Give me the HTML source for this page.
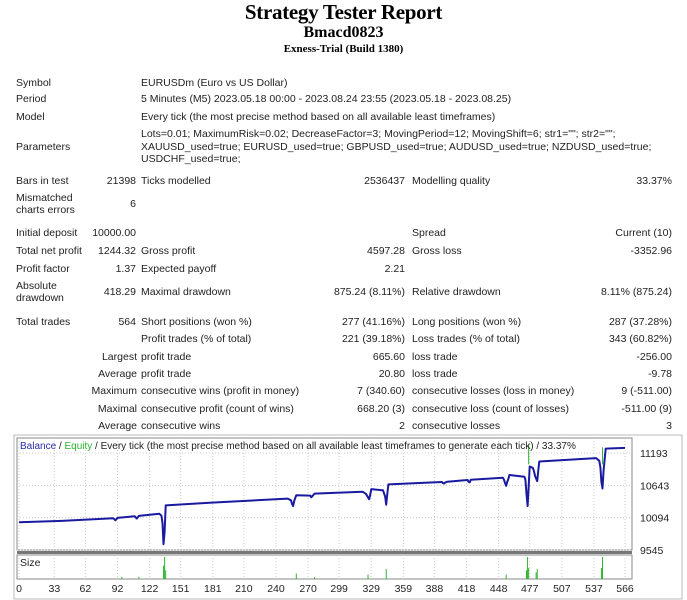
<!DOCTYPE html>
<html><head><meta charset="utf-8">
<style>
body{margin:0;width:687px;height:600px;background:#fff;position:relative;overflow:hidden;font-family:"Liberation Sans",sans-serif;font-size:10.5px;color:#222}
.t{position:absolute;white-space:nowrap;line-height:13px}
.h{position:absolute;left:0;width:687px;text-align:center;font-family:"Liberation Serif",serif;font-weight:bold;color:#000}
</style></head><body>
<div class="h" style="top:0px;font-size:21px;letter-spacing:-0.3px">Strategy Tester Report</div>
<div class="h" style="top:24px;font-size:16px">Bmacd0823</div>
<div class="h" style="top:43px;font-size:11px">Exness-Trial (Build 1380)</div>

<div class="t" style="left:16px;top:77px">Symbol</div>
<div class="t" style="left:141px;top:77px">EURUSDm (Euro vs US Dollar)</div>
<div class="t" style="left:16px;top:93px">Period</div>
<div class="t" style="left:141px;top:93px">5 Minutes (M5) 2023.05.18 00:00 - 2023.08.24 23:55 (2023.05.18 - 2023.08.25)</div>
<div class="t" style="left:16px;top:111px">Model</div>
<div class="t" style="left:141px;top:111px">Every tick (the most precise method based on all available least timeframes)</div>
<div class="t" style="left:16px;top:141px">Parameters</div>
<div class="t" style="left:141px;top:128px;line-height:12.5px">Lots=0.01; MaximumRisk=0.02; DecreaseFactor=3; MovingPeriod=12; MovingShift=6; str1=""; str2="";<br>XAUUSD_used=true; EURUSD_used=true; GBPUSD_used=true; AUDUSD_used=true; NZDUSD_used=true;<br>USDCHF_used=true;</div>

<div class="t" style="left:16px;top:175px">Bars in test</div>
<div class="t" style="right:551px;top:175px">21398</div>
<div class="t" style="left:141px;top:175px">Ticks modelled</div>
<div class="t" style="right:282px;top:175px">2536437</div>
<div class="t" style="left:412px;top:175px">Modelling quality</div>
<div class="t" style="right:15px;top:175px">33.37%</div>

<div class="t" style="left:16px;top:192px;line-height:12px">Mismatched<br>charts errors</div>
<div class="t" style="right:551px;top:198px">6</div>

<div class="t" style="left:16px;top:227px">Initial deposit</div>
<div class="t" style="right:551px;top:227px">10000.00</div>
<div class="t" style="left:412px;top:227px">Spread</div>
<div class="t" style="right:15px;top:227px">Current (10)</div>

<div class="t" style="left:16px;top:245px">Total net profit</div>
<div class="t" style="right:551px;top:245px">1244.32</div>
<div class="t" style="left:141px;top:245px">Gross profit</div>
<div class="t" style="right:282px;top:245px">4597.28</div>
<div class="t" style="left:412px;top:245px">Gross loss</div>
<div class="t" style="right:15px;top:245px">-3352.96</div>

<div class="t" style="left:16px;top:263px">Profit factor</div>
<div class="t" style="right:551px;top:263px">1.37</div>
<div class="t" style="left:141px;top:263px">Expected payoff</div>
<div class="t" style="right:282px;top:263px">2.21</div>

<div class="t" style="left:16px;top:280px;line-height:12px">Absolute<br>drawdown</div>
<div class="t" style="right:551px;top:286px">418.29</div>
<div class="t" style="left:141px;top:286px">Maximal drawdown</div>
<div class="t" style="right:282px;top:286px">875.24 (8.11%)</div>
<div class="t" style="left:412px;top:286px">Relative drawdown</div>
<div class="t" style="right:15px;top:286px">8.11% (875.24)</div>

<div class="t" style="left:16px;top:316px">Total trades</div>
<div class="t" style="right:551px;top:316px">564</div>
<div class="t" style="left:141px;top:316px">Short positions (won %)</div>
<div class="t" style="right:282px;top:316px">277 (41.16%)</div>
<div class="t" style="left:412px;top:316px">Long positions (won %)</div>
<div class="t" style="right:15px;top:316px">287 (37.28%)</div>

<div class="t" style="left:141px;top:333px">Profit trades (% of total)</div>
<div class="t" style="right:282px;top:333px">221 (39.18%)</div>
<div class="t" style="left:412px;top:333px">Loss trades (% of total)</div>
<div class="t" style="right:15px;top:333px">343 (60.82%)</div>

<div class="t" style="right:550px;top:351px">Largest</div>
<div class="t" style="left:141px;top:351px">profit trade</div>
<div class="t" style="right:282px;top:351px">665.60</div>
<div class="t" style="left:412px;top:351px">loss trade</div>
<div class="t" style="right:15px;top:351px">-256.00</div>

<div class="t" style="right:550px;top:368px">Average</div>
<div class="t" style="left:141px;top:368px">profit trade</div>
<div class="t" style="right:282px;top:368px">20.80</div>
<div class="t" style="left:412px;top:368px">loss trade</div>
<div class="t" style="right:15px;top:368px">-9.78</div>

<div class="t" style="right:550px;top:385px">Maximum</div>
<div class="t" style="left:141px;top:385px">consecutive wins (profit in money)</div>
<div class="t" style="right:282px;top:385px">7 (340.60)</div>
<div class="t" style="left:412px;top:385px">consecutive losses (loss in money)</div>
<div class="t" style="right:15px;top:385px">9 (-511.00)</div>

<div class="t" style="right:550px;top:403px">Maximal</div>
<div class="t" style="left:141px;top:403px">consecutive profit (count of wins)</div>
<div class="t" style="right:282px;top:403px">668.20 (3)</div>
<div class="t" style="left:412px;top:403px">consecutive loss (count of losses)</div>
<div class="t" style="right:15px;top:403px">-511.00 (9)</div>

<div class="t" style="right:550px;top:420px">Average</div>
<div class="t" style="left:141px;top:420px">consecutive wins</div>
<div class="t" style="right:282px;top:420px">2</div>
<div class="t" style="left:412px;top:420px">consecutive losses</div>
<div class="t" style="right:15px;top:420px">3</div>

<svg id="chart" style="position:absolute;left:0;top:0" width="687" height="600" font-family="Liberation Sans, sans-serif" font-size="10.5">
</svg>
<script>
var tradeIdx = [0,40,88,90,92,108,110,112,131,133,134,135,136,137,178,251,254,255,256,257,259,272,273,274,276,321,324,326,327,328,329,340,342,343,344,345,395,396,397,398,400,419,420,421,422,452,453,454,455,456,457,458,472,473,474,475,476,477,480,481,482,484,485,486,539,542,543,544,545,546,548,566];
var balance  = [10016,10040,10085,10050,10090,10119,10080,10125,10160,10130,10000,9643,9850,10303,10349,10418,10390,10330,10291,10380,10476,10470,10440,10460,10504,10533,10500,10440,10406,10480,10579,10560,10450,10315,10500,10659,10700,10680,10675,10690,10705,10734,10700,10695,10740,10774,10740,10680,10636,10700,10750,10820,10791,10740,10500,10291,10600,10963,10940,10880,10800,10716,10900,11049,11107,11060,10950,10700,10590,10900,11268,11279];
var sizeIdx  = [96,112,135,136,137,259,276,326,343,455,474,475,476,483,484,544,545];
var sizeVal  = [0.1,0.1,0.6,1.0,0.4,0.25,0.08,0.2,0.45,0.2,0.4,1.0,0.5,0.3,0.45,0.5,1.0];
var equitySpikeIdx = [476,545];
var equitySpikeVal = [11330,11290];
var xTicks = [0,33,62,92,122,151,181,210,240,270,299,329,359,388,418,448,477,507,537,566];
var yTicks = [9545,10094,10643,11193];

var NS="http://www.w3.org/2000/svg", svg=document.getElementById('chart');
var PL=17,PR=632,PT=438,PB=550,ST=555,SB=579;
function X(i){return PL+2+(i/566)*(625-19);}
function Y(v){return 550-(v-9545)/(11193-9545)*(550-453);}
function SY(v){return SB-v*(SB-ST-2);}
function mk(tag,attrs,name){var e=document.createElementNS(NS,tag);for(var k in attrs)e.setAttribute(k,attrs[k]);


svg.appendChild(e);return e;}
mk('rect',{x:14,y:435,width:668,height:164,fill:'#fff',stroke:'#bbb'},'chart-frame');
mk('rect',{x:PL,y:PT,width:PR-PL,height:PB-PT,fill:'#fff',stroke:'#888'},'plot-area');
mk('rect',{x:PL,y:551,width:PR-PL,height:3,fill:'#777'},'panel-separator');
mk('rect',{x:PL,y:ST,width:PR-PL,height:SB-ST,fill:'#fff',stroke:'#888'},'size-panel');
xTicks.forEach(function(t){
  mk('line',{x1:X(t),x2:X(t),y1:PT,y2:PB,stroke:'#ccc','stroke-dasharray':'1,2'},'x-grid-line');
  mk('line',{x1:X(t),x2:X(t),y1:ST,y2:SB,stroke:'#ccc','stroke-dasharray':'1,2'},'size-grid-line');
  var tx=mk('text',{x:X(t),y:592,'text-anchor':'middle',fill:'#222'},'x-tick-label');tx.textContent=t;
});
yTicks.forEach(function(v){
  mk('line',{x1:PL,x2:PR,y1:Y(v),y2:Y(v),stroke:'#ccc','stroke-dasharray':'1,2'},'y-grid-line');
  var tx=mk('text',{x:640,y:Y(v)+4,fill:'#222'},'y-tick-label');tx.textContent=v;
});
sizeIdx.forEach(function(i,k){
  mk('line',{x1:X(i),x2:X(i),y1:SB,y2:SY(sizeVal[k]),stroke:'#2db52d','stroke-width':1},'size-bar');
});
equitySpikeIdx.forEach(function(i,k){
  mk('line',{x1:X(i),x2:X(i),y1:Y(11000),y2:Y(equitySpikeVal[k]),stroke:'#2db52d','stroke-width':1},'equity-spike');
});
var d=tradeIdx.map(function(i,k){return (k?'L':'M')+X(i).toFixed(1)+' '+Y(balance[k]).toFixed(1);}).join(' ');
mk('path',{d:d,fill:'none',stroke:'#1a1aa0','stroke-width':2,'stroke-linejoin':'round'},'balance-line');
var lg=mk('text',{x:20,y:449,fill:'#222','font-size':'10'},'chart-legend');
lg.innerHTML='<tspan fill="#2a2aa8">Balance</tspan> / <tspan fill="#2db52d">Equity</tspan> / Every tick (the most precise method based on all available least timeframes to generate each tick) / 33.37%';
var sz=mk('text',{x:20,y:566,fill:'#222'},'size-label');sz.textContent='Size';
</script>
</body></html>
